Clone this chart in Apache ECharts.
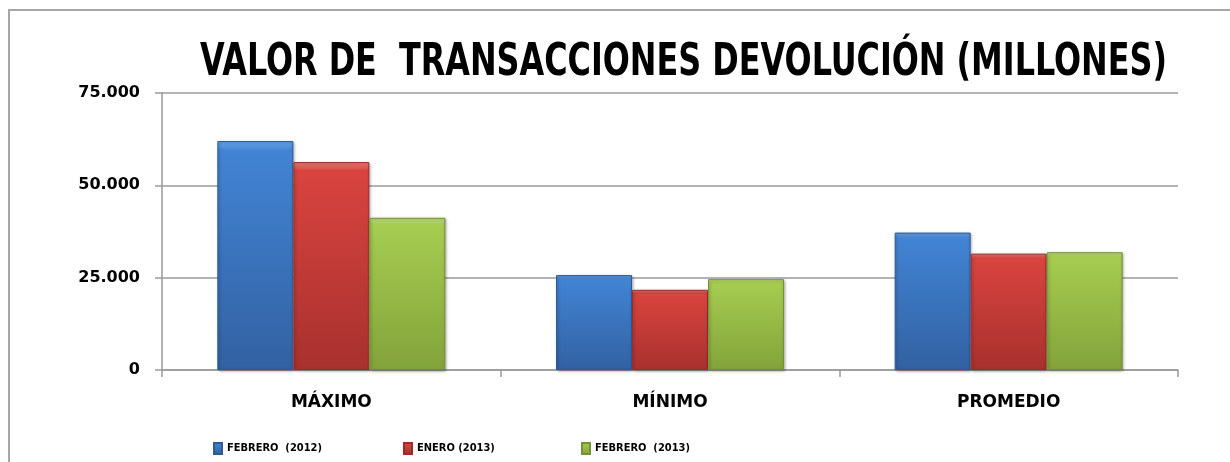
<!DOCTYPE html>
<html>
<head>
<meta charset="utf-8">
<script src="https://cdn.jsdelivr.net/npm/echarts@6/dist/echarts.min.js"></script>
<style>
html,body{margin:0;padding:0;background:#fff;}
#main{width:1230px;height:462px;}
</style>
</head>
<body>
<div id="main"></div>
<script>
var categorias = ['MÁXIMO', 'MÍNIMO', 'PROMEDIO'];
var nombresSerie = ['FEBRERO  (2012)', 'ENERO (2013)', 'FEBRERO  (2013)'];
var febrero2012 = [62000, 25700, 37200];
var enero2013 = [56300, 21700, 31500];
var febrero2013 = [41200, 24600, 31900];
var ticksY = [0, 25000, 50000, 75000];
var titulo = 'VALOR DE  TRANSACCIONES DEVOLUCIÓN (MILLONES)';

var narrow = "'DejaVu Sans Condensed', 'DejaVu Sans', sans-serif";
var wide = "'DejaVu Sans', Verdana, sans-serif";

//formato 75.000
function formatoMiles(v){
	return String(v).replace(/\B(?=(\d{3})+(?!\d))/g, '.');
}
//ancho del titulo para comprimirlo como en el original
function anchoTexto(txt, font){
	var ctx = document.createElement('canvas').getContext('2d');
	ctx.font = font;
	return ctx.measureText(txt).width;
}
//degradado de las barras
function degradado(claro, medio, oscuro){
	return new echarts.graphic.LinearGradient(0, 0, 0, 1, [
		{offset:0, color:claro},
		{offset:0.04, color:medio},
		{offset:1, color:oscuro}
	]);
}
function serie(nombre, datos, claro, medio, oscuro, borde){
	return {
		name:nombre,
		type:'bar',
		data:datos,
		barWidth:76,
		barGap:'0%',
		itemStyle:{
			color:degradado(claro, medio, oscuro),
			borderColor:borde,
			borderWidth:1,
			shadowBlur:3,
			shadowColor:'rgba(0,0,0,0.35)',
			shadowOffsetX:1,
			shadowOffsetY:1
		}
	};
}
function leyenda(nombre, x){
	return {
		data:[nombre],
		left:x,
		top:437,
		itemWidth:8,
		itemHeight:11,
		icon:'rect',
		itemGap:4,
		textStyle:{fontFamily:narrow, fontWeight:'bold', fontSize:11, color:'#000'}
	};
}

var tamTitulo = 45;
var escala = 967 / anchoTexto(titulo, 'bold ' + tamTitulo + 'px ' + narrow);

var myChart = echarts.init(document.getElementById('main'));
var option = {
	animation:false,
	graphic:[{
		type:'rect',
		shape:{x:9, y:10, width:1300, height:520},
		style:{fill:'none', stroke:'#a6a6a6', lineWidth:2},
		silent:true
	},{
		type:'text',
		x:200,
		y:41,
		scaleX:escala,
		silent:true,
		style:{
			text:titulo,
			fontFamily:narrow,
			fontWeight:'bold',
			fontSize:tamTitulo,
			fill:'#000',
			verticalAlign:'top'
		}
	}],
	color:['#3d7dcc', '#d5403c', '#a3c94c'],
	legend:[
		leyenda(nombresSerie[0], 208),
		leyenda(nombresSerie[1], 398),
		leyenda(nombresSerie[2], 576)
	],
	grid:{left:162, right:52, top:93, bottom:92},
	xAxis:{
		type:'category',
		data:categorias,
		axisLine:{lineStyle:{color:'#9a9a9a', width:1.5}},
		axisTick:{show:true, length:7, lineStyle:{color:'#9a9a9a', width:1.5}},
		axisLabel:{margin:24, fontFamily:wide, fontWeight:'bold', fontSize:17, color:'#000'}
	},
	yAxis:{
		type:'value',
		min:ticksY[0],
		max:ticksY[ticksY.length-1],
		interval:ticksY[1]-ticksY[0],
		axisLine:{show:true, lineStyle:{color:'#9a9a9a', width:1.5}},
		axisTick:{show:true, length:7, lineStyle:{color:'#9a9a9a', width:1.5}},
		splitLine:{lineStyle:{color:'#9a9a9a', width:1.5}},
		axisLabel:{
			margin:22,
			fontFamily:wide,
			fontWeight:'bold',
			fontSize:16,
			color:'#000',
			formatter:formatoMiles
		}
	},
	series:[
		serie(nombresSerie[0], febrero2012, '#6ea6ea', '#4284d4', '#3261a2', '#2d5b96'),
		serie(nombresSerie[1], enero2013, '#f2807a', '#d9443f', '#a8312e', '#9a2d2a'),
		serie(nombresSerie[2], febrero2013, '#c6e384', '#a6cc50', '#83a33b', '#759234')
	]
};
myChart.setOption(option);
</script>
</body>
</html>
